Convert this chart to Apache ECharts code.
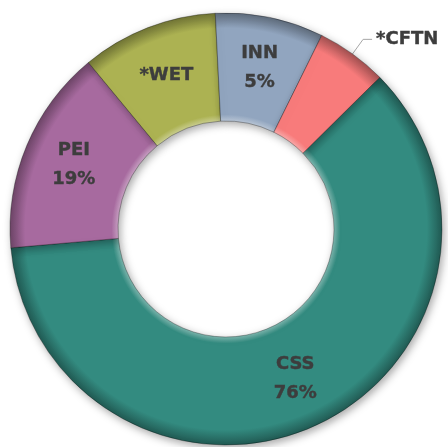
<!DOCTYPE html>
<html>
<head>
<meta charset="utf-8">
<script src="https://cdn.jsdelivr.net/npm/echarts@6/dist/echarts.min.js"></script>
<style>
  html, body { margin: 0; padding: 0; background: #fff; }
  #main { width: 448px; height: 447px; }
</style>
</head>
<body>
<div id="main"></div>
<script>
// slice data, clockwise from the top-right
var names = ['CSS', 'PEI', '*WET', 'INN', '*CFTN'];
var values = [61, 15.4, 10.2, 8.1, 5.3];
var pctLabels = ['76%', '19%', '', '5%', ''];
var colors = ['#338b80', '#a76a9f', '#acb252', '#91a5bf', '#f87b7b'];

var cx = 226, cy = 229, rIn = 108, rOut = 216;

// darken / lighten a hex colour
function shade(hex, k) {
  var n = parseInt(hex.slice(1), 16);
  var r = (n >> 16) & 255, g = (n >> 8) & 255, b = n & 255;
  function f(c) {
    c = k < 0 ? c * (1 + k) : c + (255 - c) * k;
    return Math.round(Math.max(0, Math.min(255, c)));
  }
  return 'rgb(' + f(r) + ',' + f(g) + ',' + f(b) + ')';
}

function bevel(hex) {
  var a = rIn / rOut;
  return {
    type: 'radial', x: cx, y: cy, r: rOut, global: true,
    colorStops: [
      { offset: 0, color: hex },
      { offset: a, color: shade(hex, 0.35) },
      { offset: a + 0.03, color: hex },
      { offset: 0.93, color: hex },
      { offset: 1, color: shade(hex, -0.35) }
    ]
  };
}

var data = names.map(function (n, i) {
  var d = {
    name: n,
    value: values[i],
    itemStyle: { color: bevel(colors[i]) }
  };
  if (i === 4) {
    d.label = { position: 'outside', formatter: '{b}', distanceToLabelLine: 4 };
    d.labelLine = { show: true, length: 18, length2: 9 };
  }
  return d;
});

var myChart = echarts.init(document.getElementById('main'));

var option = {
  animation: false,
  series: [
    {
      type: 'pie',
      center: [cx, cy],
      radius: [rIn, rOut],
      startAngle: 44.6,
      clockwise: true,
      avoidLabelOverlap: false,
      itemStyle: {
        borderColor: 'rgba(0,0,0,0.3)',
        borderWidth: 1,
        shadowBlur: 8,
        shadowOffsetX: 2,
        shadowOffsetY: 3,
        shadowColor: 'rgba(0,0,0,0.35)'
      },
      label: {
        show: true,
        position: 'inside',
        color: '#3d3d3d',
        fontFamily: 'DejaVu Sans',
        fontWeight: 'bold',
        fontSize: 18,
        lineHeight: 29,
        textBorderColor: '#3d3d3d',
        textBorderWidth: 0.4,
        formatter: function (p) {
          var pct = pctLabels[p.dataIndex];
          return pct ? p.name + '\n' + pct : p.name;
        }
      },
      labelLine: {
        show: false,
        lineStyle: { color: '#a6a6a6', width: 1 }
      },
      data: data
    }
  ]
};

myChart.setOption(option);
</script>
</body>
</html>
